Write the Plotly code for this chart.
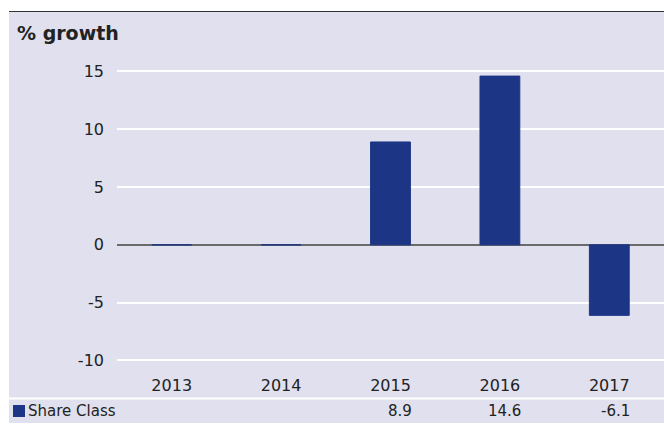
import plotly.graph_objects as go

years = ["2013", "2014", "2015", "2016", "2017"]
share_class = [0, 0, 8.9, 14.6, -6.1]
table_labels = ["", "", "8.9", "14.6", "-6.1"]
y_ticks = [-10, -5, 0, 5, 10, 15]
y_tick_text = ["-10", "-5", "0", "5", "10", "15"]
series_name = "Share Class"
title_text = "% growth"

BG = "#e0e0ee"
BAR = "#1c3585"
FONT = "DejaVu Sans"

W, H = 664, 425
ML, MR, MT, MB = 117, 0, 45, 53
PW, PH = W - ML - MR, H - MT - MB


def px_x(x):
    return (x - ML) / PW


def px_y(y):
    return 1 - (y - MT) / PH


xpos = list(range(len(years)))

fig = go.Figure()
fig.add_trace(go.Bar(
    x=xpos, y=share_class, name=series_name,
    marker=dict(color=BAR, line=dict(color=BAR, width=1)),
    width=0.364, showlegend=False,
))

# background panel
fig.add_shape(type="rect", xref="paper", yref="paper",
              x0=px_x(9), x1=1, y0=px_y(423), y1=px_y(12),
              fillcolor=BG, line=dict(width=0), layer="below")
# top rule
fig.add_shape(type="line", xref="paper", yref="paper",
              x0=px_x(9), x1=1, y0=px_y(11.5), y1=px_y(11.5),
              line=dict(color="#333333", width=1.2))
# table separator
fig.add_shape(type="line", xref="paper", yref="paper",
              x0=px_x(9), x1=1, y0=px_y(398.5), y1=px_y(398.5),
              line=dict(color="white", width=2))

# title
fig.add_annotation(text="<b>" + title_text + "</b>", xref="paper", yref="paper",
                   x=px_x(15), y=px_y(33), xanchor="left", yanchor="middle", showarrow=False,
                   font=dict(family=FONT, size=19, color="#222222"))

row_y = px_y(411)
fig.add_shape(type="rect", xref="paper", yref="paper",
              x0=px_x(13), x1=px_x(25), y0=px_y(417), y1=px_y(405),
              fillcolor=BAR, line=dict(width=0))
fig.add_annotation(text=series_name, xref="paper", yref="paper",
                   x=px_x(26), y=row_y, xanchor="left", yanchor="middle",
                   showarrow=False, font=dict(family=FONT, size=15, color="#222222"))
for i, lab in zip(xpos, table_labels):
    if lab:
        fig.add_annotation(text=lab, x=i, xref="x", yref="paper", y=row_y,
                           xanchor="right", yanchor="middle", xshift=23, showarrow=False,
                           font=dict(family=FONT, size=15, color="#222222"))

fig.update_layout(
    width=W, height=H,
    margin=dict(l=ML, r=MR, t=MT, b=MB),
    paper_bgcolor="white", plot_bgcolor=BG,
    font=dict(family=FONT, size=16, color="#222222"),
    xaxis=dict(range=[-0.5, len(years) - 0.5], tickvals=xpos, ticktext=years,
               showgrid=False, showline=False, zeroline=False, ticks="",
               tickfont=dict(size=16), ticklabelstandoff=2),
    yaxis=dict(range=[-11, 17.29], tickvals=y_ticks, ticktext=y_tick_text,
               showgrid=True, gridcolor="white",
               gridwidth=2, zeroline=True, zerolinecolor="#6a6a6a", zerolinewidth=2,
               showline=False, ticks="", ticklabelstandoff=12, tickfont=dict(size=16)),
)

fig.write_html("out.html", config={"displayModeBar": False},
               post_script="document.body.style.margin='0';document.body.style.overflow='hidden';")
